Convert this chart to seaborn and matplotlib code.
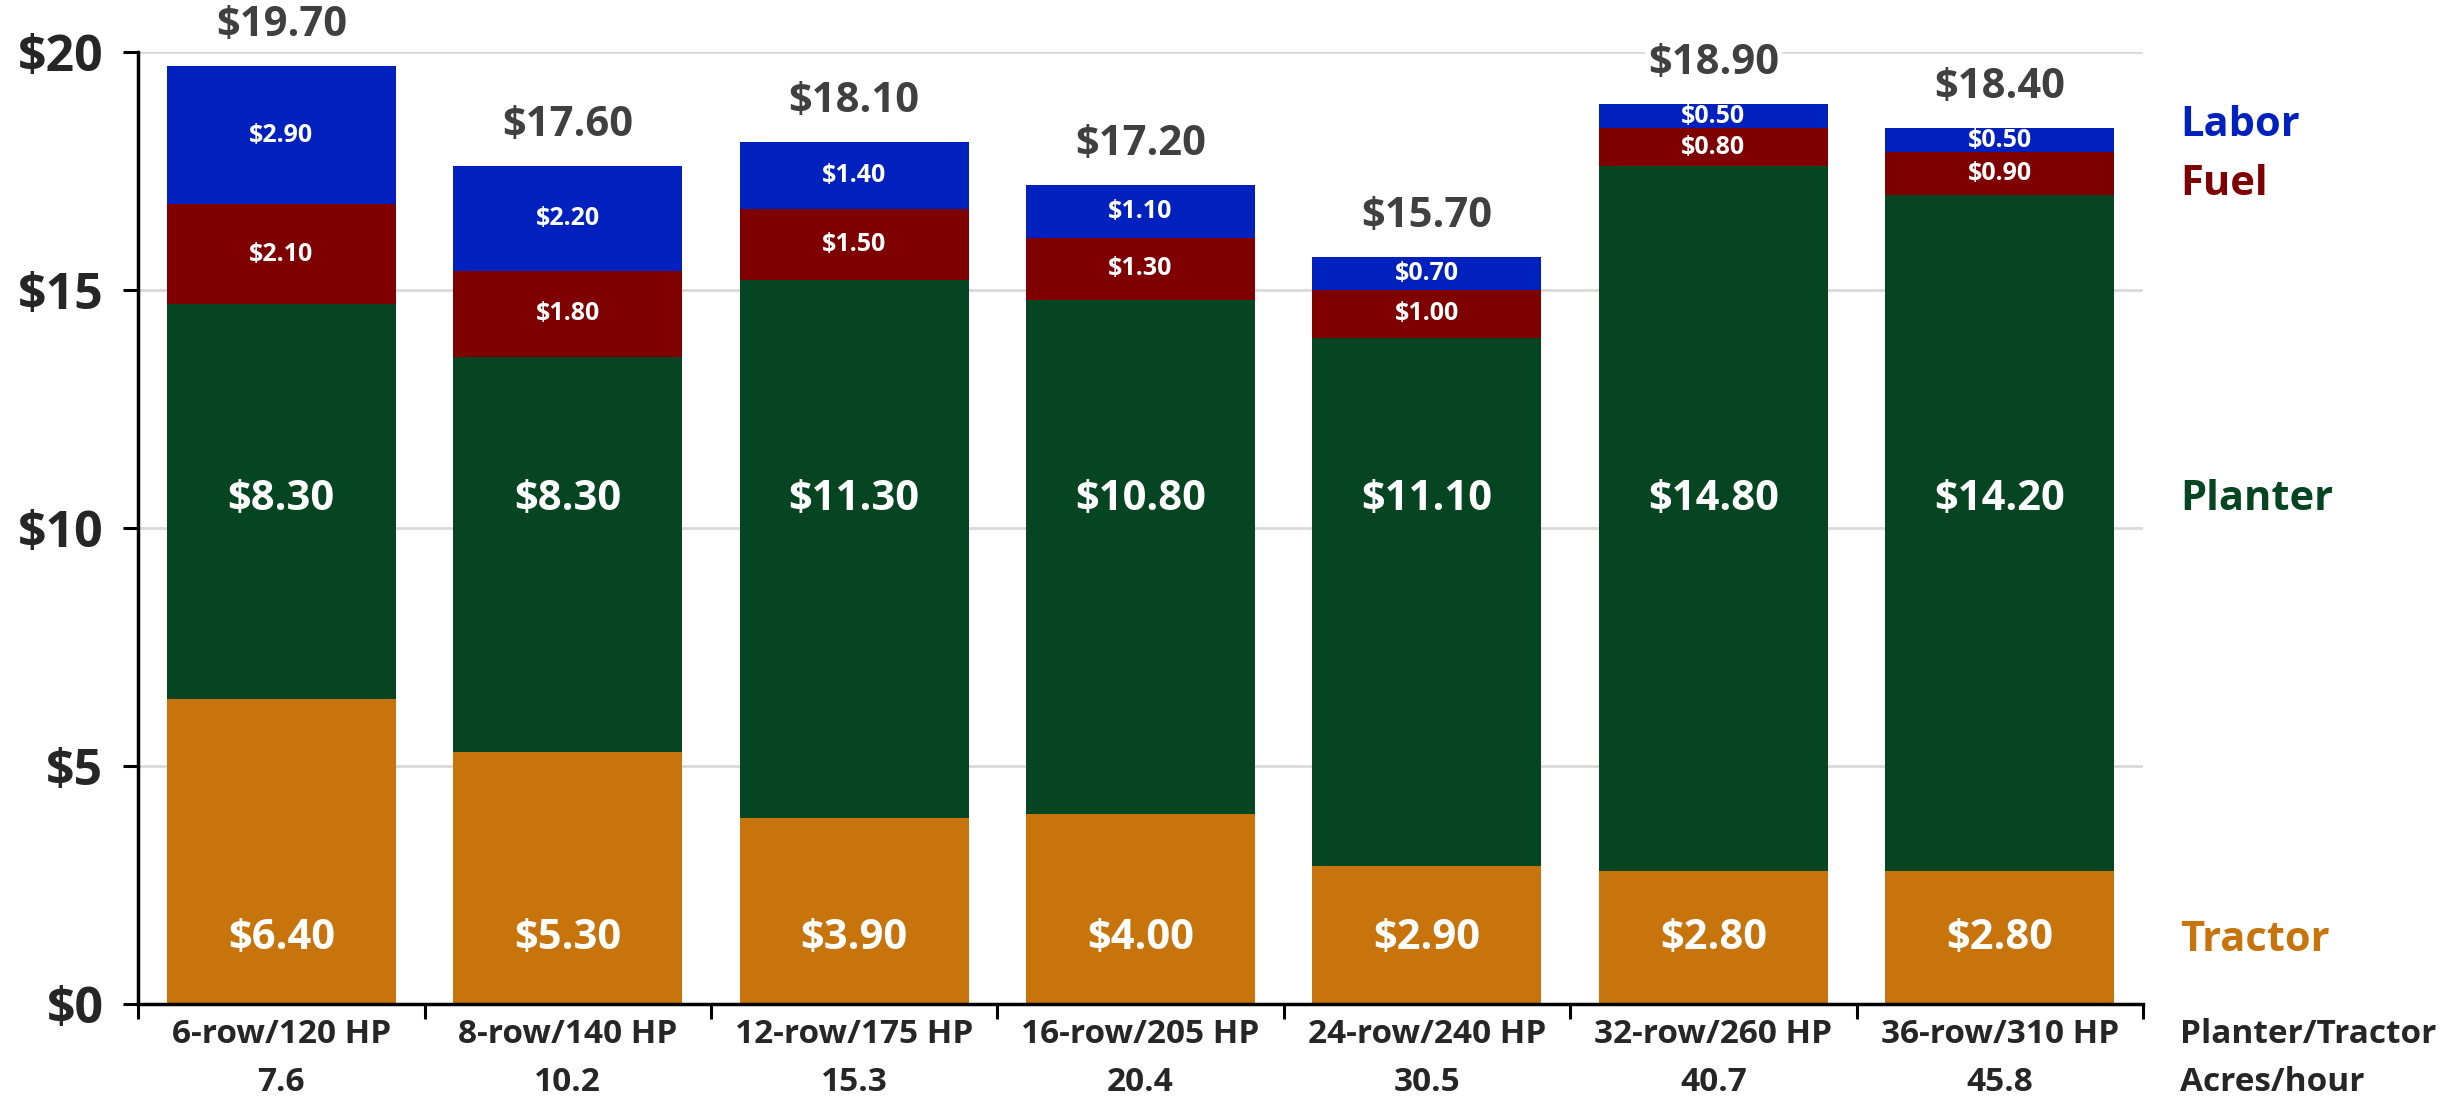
import matplotlib
matplotlib.use("Agg")
import matplotlib.pyplot as plt
import matplotlib.transforms as mtransforms
import seaborn as sns
import numpy as np
import pandas as pd

# ---- data ----
configs = ["6-row/120 HP", "8-row/140 HP", "12-row/175 HP", "16-row/205 HP",
           "24-row/240 HP", "32-row/260 HP", "36-row/310 HP"]
acres_per_hour = ["7.6", "10.2", "15.3", "20.4", "30.5", "40.7", "45.8"]
tractor = [6.4, 5.3, 3.9, 4.0, 2.9, 2.8, 2.8]
planter = [8.3, 8.3, 11.3, 10.8, 11.1, 14.8, 14.2]
fuel = [2.1, 1.8, 1.5, 1.3, 1.0, 0.8, 0.9]
labor = [2.9, 2.2, 1.4, 1.1, 0.7, 0.5, 0.5]
totals = [19.7, 17.6, 18.1, 17.2, 15.7, 18.9, 18.4]
series_names = ["Tractor", "Planter", "Fuel", "Labor"]
y_ticks = [0, 5, 10, 15, 20]
y_tick_labels = ["$0", "$5", "$10", "$15", "$20"]

colors = {"Tractor": "#C8740C", "Planter": "#054522", "Fuel": "#7F0000", "Labor": "#0021BD"}

sns.set_theme(style="white")
FONT = ["Open Sans", "DejaVu Sans"]
plt.rcParams["font.family"] = FONT

fig = plt.figure(figsize=(24.53, 11.06), dpi=100)
ax = fig.add_axes([0.0563, 0.0922, 0.8173, 0.8608])

labels = [f"{c}\n{a}" for c, a in zip(configs, acres_per_hour)]
df = pd.DataFrame({"config": configs, "Tractor": tractor, "Planter": planter,
                   "Fuel": fuel, "Labor": labor})

bottom = np.zeros(len(configs))
for name in series_names:
    vals = np.array(df[name], dtype=float)
    sns.barplot(x=df["config"], y=vals, bottom=bottom, color=colors[name],
                saturation=1, width=0.8, ax=ax, linewidth=0, errorbar=None)
    bottom = bottom + vals

# segment labels
tr = np.array(tractor); pl = np.array(planter); fu = np.array(fuel); la = np.array(labor)
for i in range(len(configs)):
    ax.text(i, 1.38, f"${tr[i]:.2f}", ha="center", va="center", color="white",
            fontsize=30, fontweight="bold")
    ax.text(i, 10.6, f"${pl[i]:.2f}", ha="center", va="center", color="white",
            fontsize=30, fontweight="bold")
    ax.text(i, tr[i] + pl[i] + fu[i] / 2, f"${fu[i]:.2f}", ha="center", va="center",
            color="white", fontsize=18, fontweight="bold")
    ax.text(i, tr[i] + pl[i] + fu[i] + la[i] / 2, f"${la[i]:.2f}", ha="center", va="center",
            color="white", fontsize=18, fontweight="bold")
    ax.text(i, totals[i] + 0.85, f"${totals[i]:.2f}", ha="center", va="center",
            color="#404040", fontsize=30, fontweight="bold",
            bbox=dict(facecolor="white", edgecolor="none", pad=2), zorder=5)

# right-side series labels
right_x = 6.63
for name, yv in [("Labor", 18.45), ("Fuel", 17.22), ("Planter", 10.6), ("Tractor", 1.33)]:
    ax.text(right_x, yv, name, color=colors[name], fontsize=30, fontweight="bold",
            ha="left", va="center", clip_on=False)

# axes styling
ax.set_xlim(-0.5, 6.5)
ax.set_ylim(0, 20)
ax.set_yticks(y_ticks)
ax.set_yticklabels(y_tick_labels, fontsize=36, fontweight="bold")
ax.set_xticks(np.arange(-0.5, 7.0, 1.0))
ax.set_xticklabels([])
ax.set_xticks(np.arange(len(configs)), minor=True)
ax.set_xticklabels(labels, minor=True, fontsize=24, fontweight="bold", linespacing=1.6)
ax.tick_params(axis="x", which="major", bottom=True, direction="out", length=11, width=2.2,
               color="black")
ax.tick_params(axis="x", which="minor", bottom=True, length=0, pad=10)
ax.tick_params(axis="y", which="major", left=True, direction="out", length=11, width=2.2,
               color="black", pad=14)
ax.set_xlabel("")
ax.set_ylabel("")

ax.grid(axis="y", color="#D9D9D9", linewidth=2)
ax.grid(axis="x", visible=False)
ax.set_axisbelow(True)
for s in ["top", "right"]:
    ax.spines[s].set_visible(False)
for s in ["left", "bottom"]:
    ax.spines[s].set_color("black")
    ax.spines[s].set_linewidth(2.5)

# axis titles on the right, aligned with tick labels
ax.text(right_x, 0, "Planter/Tractor\nAcres/hour",
        transform=mtransforms.offset_copy(ax.transData, fig=fig, x=0, y=-14, units="dots"),
        ha="left", va="top", fontsize=24, fontweight="bold", linespacing=1.6,
        clip_on=False)

fig.savefig("out.png", dpi=100)
